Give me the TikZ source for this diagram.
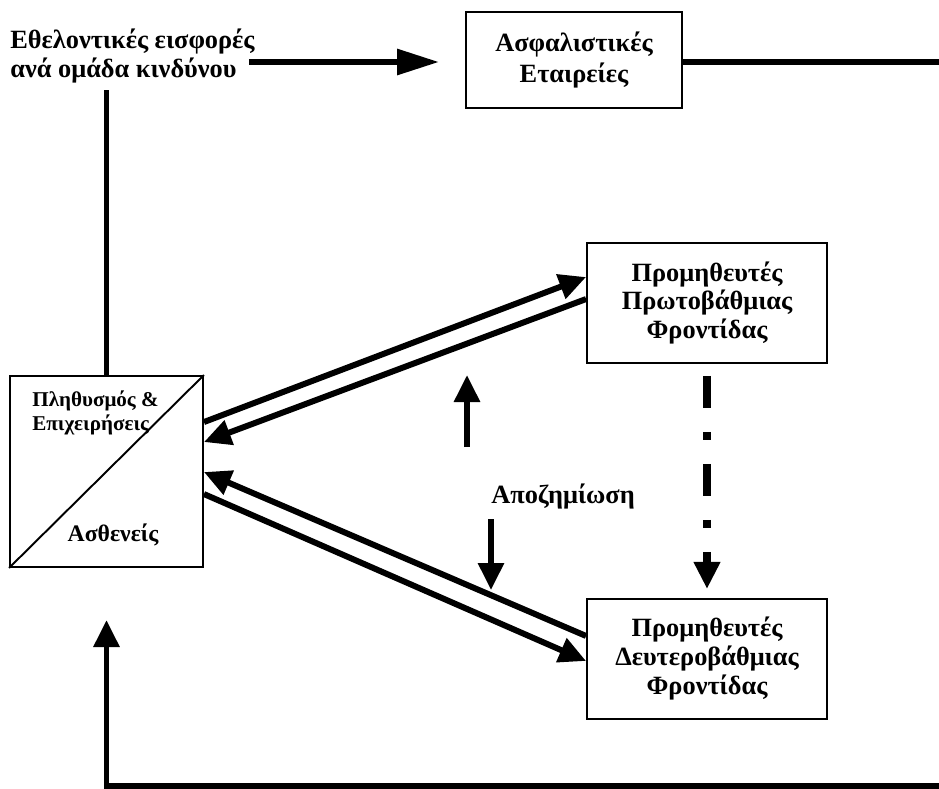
\documentclass[tikz,border=0pt]{standalone}
\usepackage{fontspec}
\setmainfont{Liberation Serif}
\usetikzlibrary{positioning,arrows.meta,calc}

\begin{document}
\begin{tikzpicture}[x=0.02cm, y=-0.02cm, on grid, node distance=7.12cm,
	box/.style={rectangle, draw=black, line width=1.1pt, align=center, inner sep=0pt, font=\bfseries\fontsize{15}{16.5}\selectfont},
	txt/.style={inner sep=0pt, font=\bfseries\fontsize{15}{16.5}\selectfont},
	flow/.style={line width=3.4pt, -{Triangle[length=0.54cm,width=0.5cm]}},
	bar/.style={line width=3.4pt}]
	\useasboundingbox (0,0) rectangle (939,788);
	% boxes
	\node [box, minimum width=4.32cm, minimum height=1.92cm, font=\bfseries\fontsize{15}{17.5}\selectfont] (INS) at (574,60) {Ασφαλιστικές\\Εταιρείες};
	\node [txt, anchor=west, align=left] (LBL) at (10,56) {Εθελοντικές εισφορές\\ανά ομάδα κινδύνου};
	\node [box, minimum width=3.86cm, minimum height=3.82cm] (POP) at (106.5,471.5) {};
	\node [box, minimum width=4.8cm, minimum height=2.4cm] (PRIM) at (707,303) {Προμηθευτές\\Πρωτοβάθμιας\\Φροντίδας};
	\node [box, minimum width=4.8cm, minimum height=2.4cm] (SEC) [below=of PRIM] {Προμηθευτές\\Δευτεροβάθμιας\\Φροντίδας};
	% texts
	\node [txt, font=\bfseries\fontsize{12}{13.6}\selectfont, anchor=west, align=left] (PE) at (32,413) {Πληθυσμός \&\\Επιχειρήσεις};
	\node [txt, font=\bfseries\fontsize{13.5}{15}\selectfont] (PAT) at (113,535) {Ασθενείς};
	\node [txt] (COMP) at (563,497) {Αποζημίωση};
	% free ends
	\coordinate (RE) at (960,62);
	\coordinate (UP) at (106.5,90);
	\coordinate (BR) at (960,786);
	\coordinate (BL) at (106.5,786);
	\coordinate (BT) at (106.5,620);
	\coordinate (UA1) at (467,447);
	\coordinate (UA2) at (467,375);
	\coordinate (DA1) at (491,519);
	\coordinate (DA2) at (491,590);
	% connectors
	\draw [line width=1.1pt] (POP.south west) -- (POP.north east);
	\draw [flow, -{Triangle[length=0.84cm,width=0.5cm]}] ($(LBL.east |- RE)+(-6,0)$) -- ($(INS.west |- RE)+(-26,0)$);
	\draw [bar] (INS.east |- RE) -- (RE);
	\draw [bar] (POP.north) -- (UP);
	\draw [flow] (BR) -- (BL) -- (BT);
	\draw [flow] ([yshift=-0.94cm]POP.north east) -- ([yshift=-0.70cm]PRIM.north west);
	\draw [flow] ([yshift=-1.14cm]PRIM.north west) -- ([yshift=-1.34cm]POP.north east);
	\draw [flow] ([yshift=-0.76cm]SEC.north west) -- ([yshift=-1.94cm]POP.north east);
	\draw [flow] ([yshift=-2.38cm]POP.north east) -- ([yshift=-1.26cm]SEC.north west);
	\draw [flow] (UA1) -- (UA2);
	\draw [flow] (DA1) -- (DA2);
	\draw [flow, line width=4.2pt, dash pattern=on 0.64cm off 0.48cm on 0.16cm off 0.48cm, dash phase=1.52cm] (PRIM.south) -- ([yshift=0.18cm]SEC.north);
\end{tikzpicture}
\end{document}
